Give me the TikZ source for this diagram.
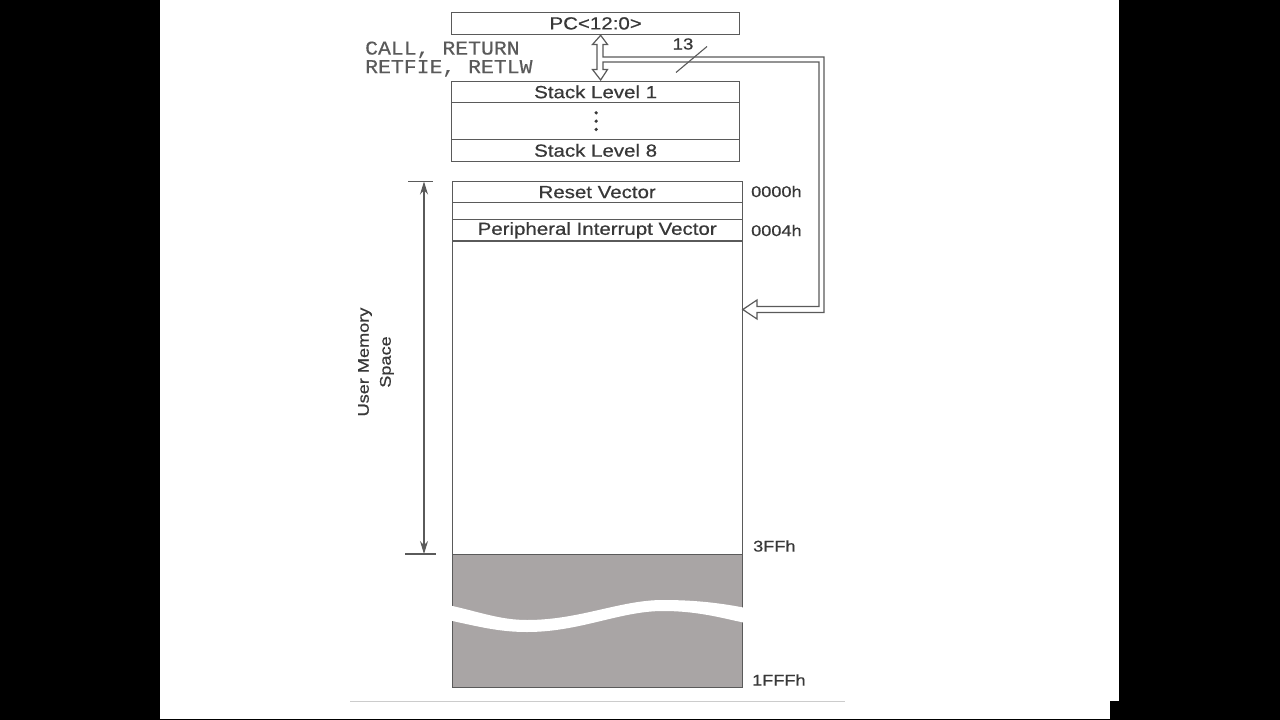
\documentclass[tikz,border=0pt]{standalone}
\usepackage{fontspec}
\setmainfont{Liberation Sans}
\newfontfamily\boxfont[FakeStretch=1.17,FakeBold=0.6]{Liberation Sans}
\newfontfamily\codefont[FakeStretch=1.1,FakeBold=0.3]{Liberation Mono}
\usetikzlibrary{arrows.meta,calc}
\definecolor{ink}{HTML}{383838}
\definecolor{edge}{HTML}{5A5A5A}
\definecolor{shade}{HTML}{A9A5A5}
\begin{document}
\begin{tikzpicture}[x=1pt,y=-1pt,
  cell/.style={draw=edge, line width=1.3pt, fill=white, rectangle, inner sep=0pt, anchor=north west, text=ink,
     font=\boxfont\fontsize{17.5}{20}\selectfont},
  addr/.style={anchor=west, inner sep=0pt, text=ink, font=\boxfont\fontsize{15.5}{18}\selectfont},
  hollow/.style={draw=edge, line width=1.2pt, fill=white, line join=miter},
  dimline/.style={draw=edge, line width=1.1pt}
]
% background and margins
\fill[black] (0,0) rectangle (1280,720);
\fill[white] (160,0) rectangle (1119,718.5);
\fill[black] (1110,700.5) rectangle (1119,718.5);
\useasboundingbox (0,0) rectangle (1280,720);

% PC register
\node[cell, minimum width=288, minimum height=21.5] (pc) at (451,12) {PC<12:0>};

% stack
\node[cell, minimum width=288, minimum height=21.5] (s1) at (451,80.5) {Stack Level 1};
\node[cell, minimum width=288, minimum height=37] (sd) at (451,102) {};
\node[cell, minimum width=288, minimum height=21.5] (s8) at (451,139) {Stack Level 8};
\foreach \dy in {-8.3,0,8.3} \fill[ink] ($(sd.center)+(0.5,\dy)$) circle (1.8);

% instructions
\node[anchor=west, inner sep=0pt, align=left, text=edge,
      font=\codefont\fontsize{19.5}{18.5}\selectfont] (ins) at (365,59) {CALL, RETURN\\RETFIE, RETLW};

% program memory
\node[cell, minimum width=290, minimum height=21] (rv) at (451.5,181) {Reset Vector};
\node[cell, minimum width=290, minimum height=17] (gap) at (451.5,202) {};
\node[cell, minimum width=290, minimum height=21.3] (piv) at (451.5,219) {Peripheral Interrupt Vector};
\node[cell, minimum width=290, minimum height=313.7] (user) at (451.5,240.3) {};
\node[cell, fill=shade, minimum width=290, minimum height=132.5] (rest) at (451.5,554) {};
% break in unimplemented space
\fill[white] (448,605) .. controls (480,612) and (500,620) .. (527,620)
   .. controls (580,620) and (620,600) .. (663,600)
   .. controls (700,600) and (725,604) .. (746,608)
   -- (746,623) .. controls (725,619) and (700,611) .. (663,611)
   .. controls (620,611) and (580,632) .. (527,632)
   .. controls (500,632) and (480,627) .. (448,620) -- cycle;

% addresses
\node[addr] (a0) at (751,191.5) {0000h};
\node[addr] (a4) at (751,230.5) {0004h};
\node[addr] (a3) at (753,546) {3FFh};
\node[addr] (a1) at (752,680) {1FFFh};

% hollow bus arrows
\path[hollow] ($(pc.south)+(5,0.5)$) -- (607.5,44.5) -- (603,44.5) -- (603,57) -- (824,57)
  -- (824,312.5) -- (757,312.5) -- (757,319) -- (user.east |- 0,309.5) -- (757,300) -- (757,306.5)
  -- (819,306.5) -- (819,62) -- (603,62) -- (603,69.5) -- (607.5,69.5) -- ($(s1.north)+(5,-0.5)$)
  -- (592.5,69.5) -- (597,69.5) -- (597,44.5) -- (592.5,44.5) -- cycle;
\coordinate (sl1) at (676,72.5);
\coordinate (sl2) at (707,46.5);
\draw[dimline] (sl1) -- (sl2);
\node[inner sep=0pt, text=ink, font=\boxfont\fontsize{16}{18}\selectfont] (n13) at (683,44) {13};

% user memory space dimension
\coordinate (ut) at (424,181.5);
\coordinate (ub) at (424,554);
\draw[dimline] (408,181.5) -- (433,181.5);
\draw[dimline] (405,554) -- (436,554);
\draw[dimline, {Stealth[length=13,width=8]}-{Stealth[length=13,width=8]}] (ut) -- (ub);
\node[rotate=90, align=center, inner sep=0pt, text=ink,
      font=\boxfont\fontsize{15.5}{22}\selectfont] (ums) at (376,362) {User Memory\\Space};

% bottom rule
\coordinate (r1) at (350,701);
\coordinate (r2) at (845,701);
\draw[draw=black!20, line width=0.8pt] (r1) -- (r2);
\end{tikzpicture}
\end{document}
